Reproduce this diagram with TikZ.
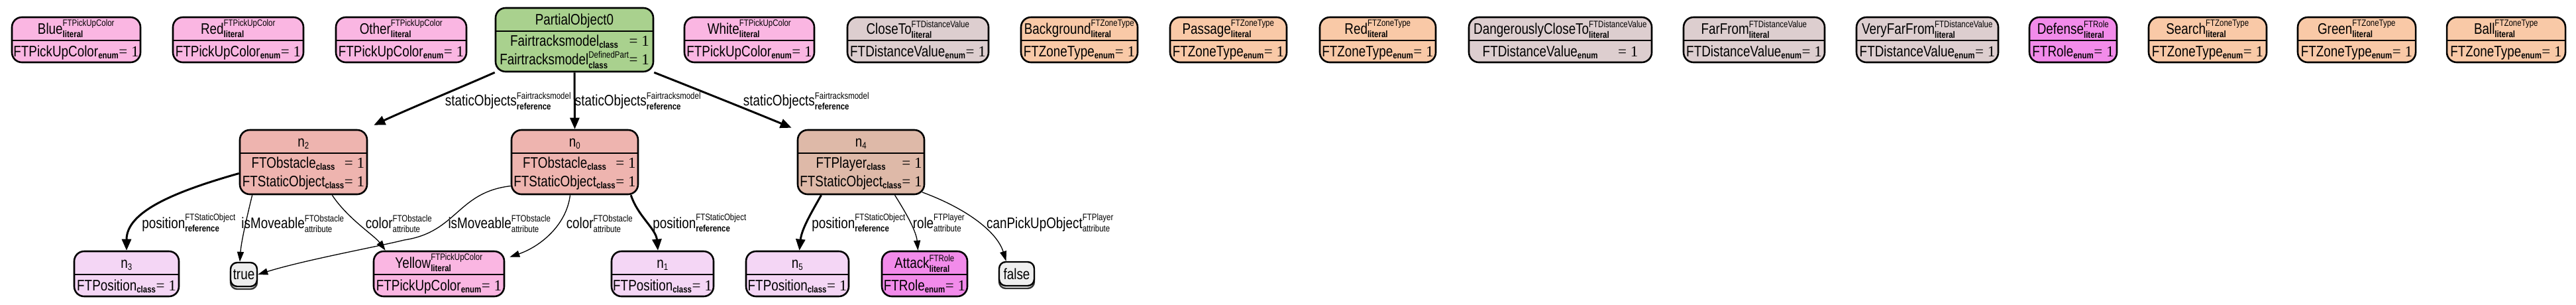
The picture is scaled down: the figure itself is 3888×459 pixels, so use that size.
\documentclass[tikz,border=0pt]{standalone}
\usepackage{fontspec}
\usepackage{amsmath}
\setmainfont{Liberation Sans}[FakeStretch=0.82]
\newfontfamily\serf{Liberation Serif}
\DeclareMathSizes{23}{23}{14}{10}
\usetikzlibrary{arrows.meta,shadows}
\definecolor{pinkC}{RGB}{250,182,226}
\definecolor{greenC}{RGB}{169,209,142}
\definecolor{grayC}{RGB}{221,206,207}
\definecolor{peachC}{RGB}{249,201,167}
\definecolor{magC}{RGB}{242,139,234}
\definecolor{salmC}{RGB}{238,180,175}
\definecolor{tanC}{RGB}{222,185,168}
\definecolor{lavC}{RGB}{244,214,245}
\definecolor{lgrayC}{RGB}{238,238,238}
\newcommand\Lit[3]{#1$^{\text{#2}}_{\text{\bfseries #3}}$}
\newcommand\Att[3]{#1$^{\text{#2}}_{\text{#3}}$}
\newcommand\Sb[2]{#1$_{\text{\bfseries #2}}$}
\newcommand\eqo{{\serf= 1}}
\newcommand\nn[1]{n$_{\text{#1}}$}
% name, left, top, width, height, fill, title, body, body baseline offset
\newcommand\mkrec[9]{%
  \node[rec,fill=#6,minimum width=#4pt,minimum height=#5pt] (#1) at ({#2+#4/2},{#3+#5/2}) {};
  \draw[sepl] ({#2},{#3+35}) -- ({#2+#4},{#3+35});
  \node[txt,anchor=base] at ({#2+#4/2},{#3+25}) {#7};
  \node[txt,anchor=base] at ({#2+#4/2},{#3+#9}) {#8};
}
\tikzset{
  rec/.style={draw=black,line width=2.6pt,rounded corners=15pt,inner sep=0pt},
  sepl/.style={line width=2.6pt},
  txt/.style={inner sep=0pt},
  lbl/.style={inner sep=0pt,anchor=base},
  boolbox/.style={draw=black,line width=2.4pt,rounded corners=10pt,inner sep=0pt,fill=lgrayC,
    minimum width=#1,minimum height=36pt,
    copy shadow={shadow xshift=0pt,shadow yshift=-4pt,fill=lgrayC,draw=black!80}},
  thk/.style={line width=3pt,-{Triangle[length=17pt,width=14pt]}},
  thn/.style={line width=1.3pt,-{Triangle[length=15pt,width=10pt]}},
}
\begin{document}
\begin{tikzpicture}[x=1pt,y=-1pt,font=\fontsize{23}{28}\selectfont]
\fill[white] (0,0) rectangle (3888,459);
\useasboundingbox (0,0) rectangle (3888,459);
% top row
\mkrec{blue}{18}{26}{194}{68}{pinkC}{\Lit{Blue}{FTPickUpColor}{literal}}{\Sb{FTPickUpColor}{enum}\eqo}{59}
\mkrec{redc}{261}{26}{197}{68}{pinkC}{\Lit{Red}{FTPickUpColor}{literal}}{\Sb{FTPickUpColor}{enum}\eqo}{59}
\mkrec{other}{507}{26}{197}{68}{pinkC}{\Lit{Other}{FTPickUpColor}{literal}}{\Sb{FTPickUpColor}{enum}\eqo}{59}
\mkrec{po}{748}{12}{238}{96}{greenC}{PartialObject0}{\begin{tabular}[t]{@{}c@{}l@{}}\Sb{Fairtracksmodel}{class} & \eqo\\ \Lit{Fairtracksmodel}{DefinedPart}{class} & \eqo\end{tabular}}{57}
\mkrec{white}{1033}{26}{196}{68}{pinkC}{\Lit{White}{FTPickUpColor}{literal}}{\Sb{FTPickUpColor}{enum}\eqo}{59}
\mkrec{closeto}{1279}{26}{213}{68}{grayC}{\Lit{CloseTo}{FTDistanceValue}{literal}}{\Sb{FTDistanceValue}{enum}\eqo}{59}
\mkrec{backg}{1541}{26}{176}{68}{peachC}{\Lit{Background}{FTZoneType}{literal}}{\Sb{FTZoneType}{enum}\eqo}{59}
\mkrec{passage}{1766}{26}{176}{68}{peachC}{\Lit{Passage}{FTZoneType}{literal}}{\Sb{FTZoneType}{enum}\eqo}{59}
\mkrec{redz}{1992}{26}{175}{68}{peachC}{\Lit{Red}{FTZoneType}{literal}}{\Sb{FTZoneType}{enum}\eqo}{59}
\mkrec{dct}{2217}{26}{276}{68}{grayC}{\Lit{DangerouslyCloseTo}{FTDistanceValue}{literal}}{\Sb{FTDistanceValue}{enum}\hspace{30pt}\eqo}{59}
\mkrec{farfrom}{2541}{26}{213}{68}{grayC}{\Lit{FarFrom}{FTDistanceValue}{literal}}{\Sb{FTDistanceValue}{enum}\eqo}{59}
\mkrec{vff}{2802}{26}{214}{68}{grayC}{\Lit{VeryFarFrom}{FTDistanceValue}{literal}}{\Sb{FTDistanceValue}{enum}\eqo}{59}
\mkrec{defense}{3063}{26}{132}{68}{magC}{\Lit{Defense}{FTRole}{literal}}{\Sb{FTRole}{enum}\eqo}{59}
\mkrec{search}{3243}{26}{178}{68}{peachC}{\Lit{Search}{FTZoneType}{literal}}{\Sb{FTZoneType}{enum}\eqo}{59}
\mkrec{green}{3468}{26}{178}{68}{peachC}{\Lit{Green}{FTZoneType}{literal}}{\Sb{FTZoneType}{enum}\eqo}{59}
\mkrec{ball}{3693}{26}{179}{68}{peachC}{\Lit{Ball}{FTZoneType}{literal}}{\Sb{FTZoneType}{enum}\eqo}{59}
% middle row
\mkrec{n2}{362}{196}{192}{97}{salmC}{\nn{2}}{\begin{tabular}[t]{@{}c@{}l@{}}\Sb{FTObstacle}{class} & \eqo\\ \Sb{FTStaticObject}{class} & \eqo\end{tabular}}{57}
\mkrec{n0}{772}{196}{191}{97}{salmC}{\nn{0}}{\begin{tabular}[t]{@{}c@{}l@{}}\Sb{FTObstacle}{class} & \eqo\\ \Sb{FTStaticObject}{class} & \eqo\end{tabular}}{57}
\mkrec{n4}{1204}{196}{191}{97}{tanC}{\nn{4}}{\begin{tabular}[t]{@{}c@{}l@{}}\Sb{FTPlayer}{class} & \eqo\\ \Sb{FTStaticObject}{class} & \eqo\end{tabular}}{57}
% bottom row
\mkrec{n3}{112}{379}{158}{68}{lavC}{\nn{3}}{\Sb{FTPosition}{class}\eqo}{59}
\mkrec{yel}{564}{379}{197}{68}{pinkC}{\Lit{Yellow}{FTPickUpColor}{literal}}{\Sb{FTPickUpColor}{enum}\eqo}{59}
\mkrec{n1}{923}{379}{154}{68}{lavC}{\nn{1}}{\Sb{FTPosition}{class}\eqo}{59}
\mkrec{n5}{1126}{379}{155}{68}{lavC}{\nn{5}}{\Sb{FTPosition}{class}\eqo}{59}
\mkrec{att}{1331}{379}{129}{68}{magC}{\Lit{Attack}{FTRole}{literal}}{\Sb{FTRole}{enum}\eqo}{59}
\node[boolbox=40pt] (tru) at (368,414) {true};
\node[boolbox=53pt] (fls) at (1534.5,413) {false};
% edges
\draw[thk] (po.south west) .. controls (700,130) and (615,165) .. ([xshift=9pt,yshift=6pt]n2.north east);
\draw[thk] (po.south) -- (n0.north);
\draw[thk] (po.south east) .. controls (1060,138) and (1140,170) .. ([xshift=-8pt,yshift=2pt]n4.north west);
\draw[thk] ([yshift=-17pt]n2.west) .. controls (260,290) and (191,320) .. (n3.north);
\draw[thn] ([xshift=20pt]n2.south west) .. controls (372,330) and (364,365) .. ([xshift=-6pt]tru.north);
\draw[thn] ([xshift=-54pt]n2.south east) .. controls (525,330) and (565,355) .. ([xshift=19pt]yel.north west);
\draw[thn] ([yshift=-36pt]n0.west) .. controls (690,290) and (690,350) .. (610,362) .. controls (570,372) and (460,392) .. (tru.east);
\draw[thn] ([xshift=-7pt]n0.south) .. controls (855,340) and (815,372) .. ([xshift=7pt,yshift=-10pt]yel.north east);
\draw[thk] ([xshift=-12pt]n0.south east) .. controls (962,325) and (990,345) .. ([xshift=-7pt]n1.north);
\draw[thk] ([xshift=-60pt]n4.south) .. controls (1225,320) and (1210,345) .. ([xshift=3pt]n5.north);
\draw[thn] ([xshift=51pt]n4.south) .. controls (1370,325) and (1383,350) .. ([xshift=-10pt]att.north);
\draw[thn] ([xshift=-4.4pt,yshift=4.4pt]n4.south east) .. controls (1460,315) and (1505,350) .. ([xshift=-16pt]fls.north);
% labels
\node[lbl] (l1) at (767,159) {\Lit{staticObjects}{Fairtracksmodel}{reference}};
\node[lbl] (l2) at (963,159) {\Lit{staticObjects}{Fairtracksmodel}{reference}};
\node[lbl] (l3) at (1217,159) {\Lit{staticObjects}{Fairtracksmodel}{reference}};
\node[lbl] (l4) at (285,344) {\Lit{position}{FTStaticObject}{reference}};
\node[lbl] (l5) at (442,344) {\Att{isMoveable}{FTObstacle}{attribute}};
\node[lbl] (l6) at (602,344) {\Att{color}{FTObstacle}{attribute}};
\node[lbl] (l7) at (754,344) {\Att{isMoveable}{FTObstacle}{attribute}};
\node[lbl] (l8) at (905,344) {\Att{color}{FTObstacle}{attribute}};
\node[lbl] (l9) at (1056,344) {\Lit{position}{FTStaticObject}{reference}};
\node[lbl] (l10) at (1296,344) {\Lit{position}{FTStaticObject}{reference}};
\node[lbl] (l11) at (1417,344) {\Att{role}{FTPlayer}{attribute}};
\node[lbl] (l12) at (1585,344) {\Att{canPickUpObject}{FTPlayer}{attribute}};
\end{tikzpicture}
\end{document}
